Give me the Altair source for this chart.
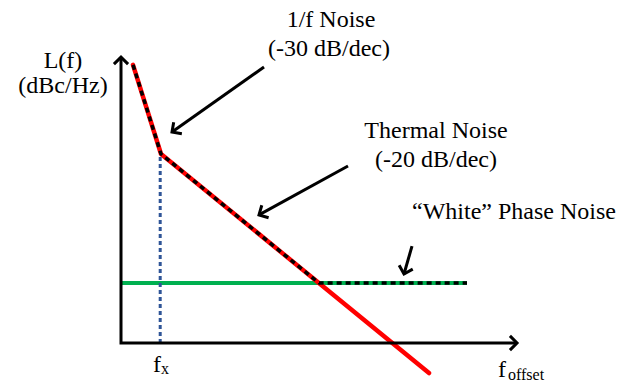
import math
import altair as alt
import pandas as pd

# ---------------- data (x ~ log offset frequency, y ~ L(f), arbitrary units) ----------------
x_domain = [-3.025, 12.725]
y_domain = [-1.4, 11.433]

# axes (drawn as arrows)
axis_x = [0.0, 0.0, 9.9]
axis_y = [9.53, 0.0, 0.0]

# 1/f (-30 dB/dec) + thermal (-20 dB/dec) asymptote
red_x = [0.3, 1.0, 7.7]
red_y = [9.27, 6.3, -1.0]

# "white" phase-noise floor
green_x = [0.0, 8.65]
green_y = [2.0, 2.0]

# total phase noise (dotted)
total_x = [0.3, 1.0, 4.95, 8.65]
total_y = [9.27, 6.3, 2.0, 2.0]

# corner frequency marker f_x
fx_x = [0.98, 0.98]
fx_y = [0.0, 6.3]

# annotation arrows: start -> tip
arrow_x1 = [3.575, 5.675, 7.275]
arrow_y1 = [9.2, 5.9, 3.23]
arrow_x2 = [1.275, 3.45, 7.075]
arrow_y2 = [7.03, 4.27, 2.3]

# centred labels
c_labels = ["L(f)", "(dBc/Hz)", "1/f Noise", "(-30 dB/dec)", "Thermal Noise", "(-20 dB/dec)"]
c_x = [-1.45, -1.45, 5.25, 5.2, 7.875, 7.875]
c_y = [9.17, 8.33, 10.53, 9.57, 6.83, 5.87]

# left-aligned labels
l_labels = ["\u201cWhite\u201d Phase Noise", "f", "f"]
l_x = [7.275, 0.8, 9.425]
l_y = [4.13, -0.97, -1.13]

# subscripts
s_labels = ["x", "offset"]
s_x = [1.0, 9.675]
s_y = [-1.03, -1.23]

# ---------------- chart ----------------
W, H = 630, 385
xs = alt.Scale(domain=x_domain, nice=False, zero=False)
ys = alt.Scale(domain=y_domain, nice=False, zero=False)
px_x = W / (x_domain[1] - x_domain[0])
px_y = H / (y_domain[1] - y_domain[0])
FONT = "Liberation Serif"


def X(f="x"):
    return alt.X(f + ":Q", scale=xs, axis=None)


def Y(f="y"):
    return alt.Y(f + ":Q", scale=ys, axis=None)


def line_layer(xv, yv, **mark):
    df = pd.DataFrame({"x": xv, "y": yv, "o": list(range(len(xv)))})
    return alt.Chart(df).mark_line(**mark).encode(x=X(), y=Y(), order="o:Q")


def heading(dx, dy):
    a = math.degrees(math.atan2(dx * px_x, dy * px_y))
    return a % 360


green = line_layer(green_x, green_y, color="#00B050", strokeWidth=4, strokeCap="butt")
red = line_layer(red_x, red_y, color="#FF0000", strokeWidth=4.5, strokeCap="round", strokeJoin="round")
blue = line_layer(fx_x, fx_y, color="#2F5597", strokeWidth=3, strokeDash=[4, 3])
total = line_layer(total_x, total_y, color="black", strokeWidth=3.5, strokeDash=[5, 4], strokeJoin="round")
axes = line_layer(axis_x, axis_y, color="black", strokeWidth=3, strokeJoin="miter")

# arrow heads for axes and annotations
head_x = [axis_x[0], axis_x[-1]] + arrow_x2
head_y = [axis_y[0], axis_y[-1]] + arrow_y2
head_a = [heading(0, 1), heading(1, 0)] + [
    heading(x2 - x1, y2 - y1) for x1, y1, x2, y2 in zip(arrow_x1, arrow_y1, arrow_x2, arrow_y2)
]
heads_df = pd.DataFrame({"x": head_x, "y": head_y, "a": head_a})
heads = alt.Chart(heads_df).mark_point(
    shape="M -1 1 L 0 0 L 1 1", size=200, filled=False, strokeWidth=3,
    color="black", opacity=1, strokeJoin="miter", strokeCap="butt"
).encode(x=X(), y=Y(), angle=alt.Angle("a:Q", scale=None))

arrows_df = pd.DataFrame({"x": arrow_x1, "y": arrow_y1, "x2": arrow_x2, "y2": arrow_y2})
arrows = alt.Chart(arrows_df).mark_rule(color="black", strokeWidth=3).encode(
    x=X(), y=Y(), x2="x2:Q", y2="y2:Q"
)

center_txt = alt.Chart(pd.DataFrame({"x": c_x, "y": c_y, "t": c_labels})).mark_text(
    font=FONT, fontSize=24, align="center", baseline="alphabetic", color="black"
).encode(x=X(), y=Y(), text="t:N")

left_txt = alt.Chart(pd.DataFrame({"x": l_x, "y": l_y, "t": l_labels})).mark_text(
    font=FONT, fontSize=24, align="left", baseline="alphabetic", color="black"
).encode(x=X(), y=Y(), text="t:N")

sub_txt = alt.Chart(pd.DataFrame({"x": s_x, "y": s_y, "t": s_labels})).mark_text(
    font=FONT, fontSize=16, align="left", baseline="alphabetic", color="black"
).encode(x=X(), y=Y(), text="t:N")

chart = alt.layer(
    green, red, blue, total, axes, arrows, heads, center_txt, left_txt, sub_txt
).properties(
    width=W, height=H, autosize=alt.AutoSizeParams(type="none"), padding=0, background="white"
).configure_view(stroke=None)

chart.save("out.html", embed_options={"renderer": "svg", "actions": False})
